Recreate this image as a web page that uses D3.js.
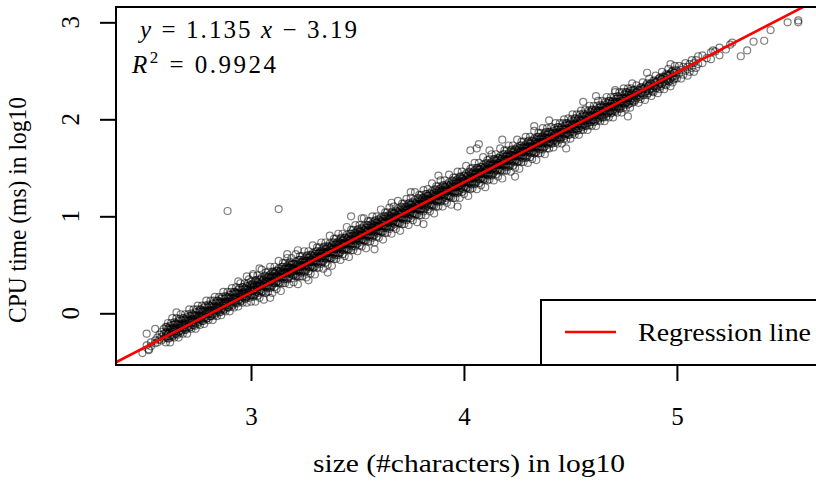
<!DOCTYPE html>
<html><head><meta charset="utf-8">
<script src="https://cdn.jsdelivr.net/npm/d3@7"></script>
<style>
html,body{margin:0;padding:0;background:#fff;}
svg{display:block;}
svg text{font-family:"Liberation Serif","Times New Roman",Tinos,"DejaVu Serif",serif !important;fill:#000;}
</style></head><body>
<svg id="chart" width="816" height="482"></svg>
<script>
// ---- data ----
const xTicks = [3, 4, 5];
const yTicks = [0, 1, 2, 3];
const fitSlope = 1.135;
const fitIntercept = -3.19;
const fitR2 = 0.9924;
const xLabel = "size (#characters) in log10";
const yLabel = "CPU time (ms) in log10";
const legendLabel = "Regression line";

// sparse points at the ends of the cloud and isolated outliers: [log10 size, log10 CPU ms]
const sparsePoints = [
[2.49,-0.41],[2.51,-0.21],[2.51,-0.33],[2.52,-0.38],[2.52,-0.37],[2.53,-0.30],[2.53,-0.34],
[2.55,-0.16],[2.55,-0.28],[2.55,-0.31],[2.56,-0.25],[2.56,-0.30],[2.57,-0.27],[2.57,-0.22],
[2.58,-0.24],[2.58,-0.28],[2.58,-0.19],[2.59,-0.26],[2.59,-0.21],[2.59,-0.16],
[2.65,0.01],[2.89,1.055],[2.94,0.33],[3.01,0.405],[3.04,0.464],[3.13,1.075],[3.17,0.61],
[3.27,0.34],[3.47,1.00],[3.75,1.25],[4.03,1.68],[4.06,1.70],[4.07,1.745],[4.18,1.79],
[4.40,1.99],[4.56,2.18],[4.71,2.30],[4.97,2.57],
[2.98,0.38],[3.09,0.16],[3.22,0.65],[3.36,0.42],[3.52,0.98],[3.58,0.66],[3.66,1.14],
[3.81,0.92],[3.88,1.42],[3.97,1.10],[4.12,1.68],[4.24,1.41],[4.33,1.93],[4.48,1.70],
[4.62,2.24],[4.77,2.03],[4.86,2.48],
[5.12,2.58],[5.12,2.66],[5.14,2.63],[5.16,2.62],[5.16,2.69],[5.17,2.71],[5.18,2.70],
[5.20,2.66],[5.20,2.74],[5.23,2.72],[5.25,2.77],[5.26,2.79],[5.30,2.65],[5.33,2.71],
[5.36,2.80],[5.41,2.81],[5.44,2.92],[5.52,3.00],[5.57,3.02],[5.57,3.00]
];

// cloud, grouped by log10 size: [x, [log10 CPU values]]
const columns = [
[2.60,[-0.30,-0.24,-0.20,-0.14]],[2.61,[-0.26,-0.21,-0.16,-0.10]],[2.62,[-0.30,-0.24,-0.17,-0.13]],
[2.63,[-0.24,-0.19,-0.17,-0.05]],[2.64,[-0.25,-0.19,-0.15,-0.09]],[2.65,[-0.21,-0.16,-0.11,-0.05]],
[2.66,[-0.25,-0.19,-0.12,-0.08]],[2.67,[-0.20,-0.15,-0.13,-0.01]],[2.68,[-0.21,-0.15,-0.11,-0.05]],
[2.69,[-0.17,-0.12,-0.07,-0.01]],[2.70,[-0.21,-0.15,-0.08,-0.04]],[2.71,[-0.15,-0.10,-0.08,0.04]],
[2.72,[-0.16,-0.10,-0.06,0.00]],[2.73,[-0.12,-0.07,-0.02,0.04]],[2.74,[-0.16,-0.10,-0.03,0.01]],
[2.75,[-0.11,-0.06,-0.04,0.08]],[2.76,[-0.12,-0.06,-0.02,0.04]],[2.77,[-0.08,-0.03,0.02,0.08]],
[2.78,[-0.11,-0.05,0.02,0.06]],[2.79,[-0.06,-0.01,0.01,0.13]],[2.80,[-0.07,-0.01,0.03,0.09]],
[2.81,[-0.03,0.02,0.07,0.13]],[2.82,[-0.07,-0.01,0.06,0.10]],[2.83,[-0.02,0.03,0.05,0.17]],
[2.84,[-0.03,0.03,0.07,0.13]],[2.85,[0.01,0.06,0.11,0.17]],[2.86,[-0.02,0.04,0.11,0.15]],
[2.87,[0.03,0.08,0.10,0.22]],[2.88,[0.02,0.08,0.12,0.18]],[2.89,[0.06,0.11,0.16,0.22]],
[2.90,[0.02,0.08,0.15,0.19]],[2.91,[0.07,0.12,0.14,0.26]],[2.92,[0.06,0.12,0.16,0.22]],
[2.93,[0.11,0.16,0.21,0.27]],[2.94,[0.07,0.13,0.20,0.24]],[2.95,[0.12,0.17,0.19,0.31]],
[2.96,[0.11,0.17,0.21,0.27]],[2.97,[0.15,0.20,0.25,0.31]],[2.98,[0.11,0.17,0.24,0.28]],
[2.99,[0.16,0.21,0.23,0.35]],
[3.00,[0.12,0.19,0.23,0.27,0.33]],[3.01,[0.17,0.23,0.27,0.31,0.39]],[3.02,[0.12,0.20,0.25,0.29,0.34]],
[3.03,[0.18,0.24,0.28,0.32,0.39]],[3.04,[0.16,0.23,0.28,0.30,0.35]],[3.05,[0.22,0.28,0.32,0.37,0.45]],
[3.06,[0.14,0.22,0.28,0.31,0.35]],[3.07,[0.21,0.27,0.33,0.38,0.42]],[3.08,[0.22,0.29,0.33,0.37,0.43]],
[3.09,[0.26,0.32,0.36,0.40,0.48]],[3.10,[0.21,0.29,0.34,0.38,0.43]],[3.11,[0.27,0.33,0.37,0.41,0.48]],
[3.12,[0.25,0.32,0.37,0.39,0.44]],[3.13,[0.31,0.37,0.41,0.46,0.54]],[3.14,[0.23,0.31,0.37,0.40,0.44]],
[3.15,[0.31,0.37,0.43,0.48,0.52]],[3.16,[0.31,0.38,0.42,0.46,0.52]],[3.17,[0.35,0.41,0.45,0.49,0.57]],
[3.18,[0.30,0.38,0.43,0.47,0.52]],[3.19,[0.36,0.42,0.46,0.50,0.57]],[3.20,[0.32,0.39,0.44,0.46,0.51]],
[3.21,[0.38,0.44,0.48,0.53,0.61]],[3.22,[0.30,0.38,0.44,0.47,0.51]],[3.23,[0.38,0.44,0.50,0.55,0.59]],
[3.24,[0.38,0.45,0.49,0.53,0.59]],[3.25,[0.42,0.48,0.52,0.56,0.64]],[3.26,[0.37,0.45,0.50,0.54,0.59]],
[3.27,[0.43,0.49,0.53,0.57,0.64]],[3.28,[0.41,0.48,0.53,0.55,0.60]],[3.29,[0.47,0.53,0.57,0.62,0.70]],
[3.30,[0.40,0.48,0.54,0.57,0.61]],[3.31,[0.47,0.53,0.59,0.64,0.68]],[3.32,[0.47,0.54,0.58,0.62,0.68]],
[3.33,[0.51,0.57,0.61,0.65,0.73]],[3.34,[0.46,0.54,0.59,0.63,0.68]],[3.35,[0.52,0.58,0.62,0.66,0.73]],
[3.36,[0.50,0.57,0.62,0.64,0.69]],[3.37,[0.57,0.63,0.67,0.72,0.80]],[3.38,[0.49,0.57,0.63,0.66,0.70]],
[3.39,[0.56,0.62,0.68,0.73,0.77]],[3.40,[0.56,0.63,0.67,0.71,0.77]],[3.41,[0.60,0.66,0.70,0.74,0.82]],
[3.42,[0.55,0.63,0.68,0.72,0.77]],[3.43,[0.61,0.67,0.71,0.75,0.82]],[3.44,[0.59,0.66,0.71,0.73,0.78]],
[3.45,[0.66,0.72,0.76,0.81,0.89]],[3.46,[0.58,0.66,0.72,0.75,0.79]],[3.47,[0.65,0.71,0.77,0.82,0.86]],
[3.48,[0.65,0.72,0.76,0.80,0.86]],[3.49,[0.69,0.75,0.79,0.83,0.91]],[3.50,[0.64,0.72,0.77,0.81,0.86]],
[3.51,[0.70,0.76,0.80,0.84,0.91]],[3.52,[0.69,0.76,0.81,0.83,0.88]],[3.53,[0.75,0.81,0.85,0.90,0.98]],
[3.54,[0.67,0.75,0.81,0.84,0.88]],[3.55,[0.74,0.80,0.86,0.91,0.95]],[3.56,[0.74,0.81,0.85,0.89,0.95]],
[3.57,[0.78,0.84,0.88,0.92,1.00]],[3.58,[0.73,0.81,0.86,0.90,0.95]],[3.59,[0.79,0.85,0.89,0.93,1.00]],
[3.60,[0.78,0.85,0.90,0.92,0.97]],[3.61,[0.84,0.90,0.94,0.99,1.07]],[3.62,[0.76,0.84,0.90,0.93,0.97]],
[3.63,[0.83,0.89,0.95,1.00,1.04]],[3.64,[0.83,0.90,0.94,0.98,1.04]],[3.65,[0.87,0.93,0.97,1.01,1.09]],
[3.66,[0.82,0.90,0.95,0.99,1.04]],[3.67,[0.89,0.95,0.99,1.03,1.10]],[3.68,[0.87,0.94,0.99,1.01,1.06]],
[3.69,[0.93,0.99,1.03,1.08,1.16]],[3.70,[0.85,0.93,0.99,1.02,1.06]],[3.71,[0.92,0.98,1.04,1.09,1.13]],
[3.72,[0.92,0.99,1.03,1.07,1.13]],[3.73,[0.96,1.02,1.06,1.10,1.18]],[3.74,[0.91,0.99,1.04,1.08,1.13]],
[3.75,[0.98,1.04,1.08,1.12,1.19]],[3.76,[0.96,1.03,1.08,1.10,1.15]],[3.77,[1.02,1.08,1.12,1.17,1.25]],
[3.78,[0.94,1.02,1.08,1.11,1.15]],[3.79,[1.01,1.07,1.13,1.18,1.22]],[3.80,[1.01,1.08,1.12,1.16,1.22]],
[3.81,[1.05,1.11,1.15,1.19,1.27]],[3.82,[1.01,1.09,1.14,1.18,1.23]],[3.83,[1.07,1.13,1.17,1.21,1.28]],
[3.84,[1.05,1.12,1.17,1.19,1.24]],[3.85,[1.11,1.17,1.21,1.26,1.34]],[3.86,[1.03,1.11,1.17,1.20,1.24]],
[3.87,[1.10,1.16,1.22,1.27,1.31]],[3.88,[1.10,1.17,1.21,1.25,1.31]],[3.89,[1.15,1.21,1.25,1.29,1.37]],
[3.90,[1.10,1.18,1.23,1.27,1.32]],[3.91,[1.16,1.22,1.26,1.30,1.37]],[3.92,[1.14,1.21,1.26,1.28,1.33]],
[3.93,[1.20,1.26,1.30,1.35,1.43]],[3.94,[1.12,1.20,1.26,1.29,1.33]],[3.95,[1.19,1.25,1.31,1.36,1.40]],
[3.96,[1.19,1.26,1.30,1.34,1.40]],[3.97,[1.24,1.30,1.34,1.38,1.46]],[3.98,[1.19,1.27,1.32,1.36,1.41]],
[3.99,[1.25,1.31,1.35,1.39,1.46]],[4.00,[1.23,1.30,1.35,1.37,1.42]],[4.01,[1.29,1.35,1.39,1.44,1.52]],
[4.02,[1.21,1.29,1.35,1.38,1.42]],[4.03,[1.28,1.34,1.40,1.45,1.49]],[4.04,[1.29,1.36,1.40,1.44,1.50]],
[4.05,[1.33,1.39,1.43,1.47,1.55]],[4.06,[1.28,1.36,1.41,1.45,1.50]],[4.07,[1.34,1.40,1.44,1.48,1.55]],
[4.08,[1.32,1.39,1.44,1.46,1.51]],[4.09,[1.38,1.44,1.48,1.53,1.61]],[4.10,[1.30,1.38,1.44,1.47,1.51]],
[4.11,[1.37,1.43,1.49,1.54,1.58]],[4.12,[1.38,1.45,1.49,1.53,1.59]],[4.13,[1.42,1.48,1.52,1.56,1.64]],
[4.14,[1.37,1.45,1.50,1.54,1.59]],[4.15,[1.43,1.49,1.53,1.57,1.64]],[4.16,[1.41,1.48,1.53,1.55,1.60]],
[4.17,[1.47,1.53,1.57,1.62,1.70]],[4.18,[1.39,1.47,1.53,1.56,1.60]],[4.19,[1.47,1.53,1.59,1.64,1.68]],
[4.20,[1.47,1.54,1.58,1.62,1.68]],[4.21,[1.51,1.57,1.61,1.65,1.73]],[4.22,[1.46,1.54,1.59,1.63,1.68]],
[4.23,[1.52,1.58,1.62,1.66,1.73]],[4.24,[1.50,1.57,1.62,1.64,1.69]],[4.25,[1.56,1.62,1.66,1.71,1.79]],
[4.26,[1.49,1.57,1.63,1.66,1.70]],[4.27,[1.56,1.62,1.68,1.73,1.77]],[4.28,[1.56,1.63,1.67,1.71,1.77]],
[4.29,[1.60,1.66,1.70,1.74,1.82]],[4.30,[1.55,1.63,1.68,1.72,1.77]],[4.31,[1.61,1.67,1.71,1.75,1.82]],
[4.32,[1.59,1.66,1.71,1.73,1.78]],[4.33,[1.65,1.71,1.75,1.80,1.88]],[4.34,[1.58,1.66,1.72,1.75,1.79]],
[4.35,[1.65,1.71,1.77,1.82,1.86]],[4.36,[1.65,1.72,1.76,1.80,1.86]],[4.37,[1.69,1.75,1.79,1.83,1.91]],
[4.38,[1.64,1.72,1.77,1.81,1.86]],[4.39,[1.70,1.76,1.80,1.84,1.91]],
[4.40,[1.70,1.76,1.81,1.87]],[4.41,[1.75,1.80,1.85,1.92]],[4.42,[1.71,1.78,1.83,1.88]],
[4.43,[1.76,1.81,1.86,1.96]],[4.44,[1.75,1.81,1.86,1.92]],[4.45,[1.79,1.84,1.89,1.96]],
[4.46,[1.75,1.82,1.87,1.92]],[4.47,[1.80,1.85,1.90,2.00]],[4.48,[1.79,1.85,1.90,1.96]],
[4.49,[1.84,1.89,1.94,2.01]],[4.50,[1.80,1.87,1.92,1.97]],[4.51,[1.85,1.90,1.95,2.05]],
[4.52,[1.84,1.90,1.95,2.01]],[4.53,[1.88,1.93,1.98,2.05]],[4.54,[1.84,1.91,1.96,2.01]],
[4.55,[1.89,1.94,1.99,2.09]],[4.56,[1.89,1.95,2.00,2.06]],[4.57,[1.93,1.98,2.03,2.10]],
[4.58,[1.89,1.96,2.01,2.06]],[4.59,[1.94,1.99,2.04,2.14]],[4.60,[1.93,1.99,2.04,2.10]],
[4.61,[1.97,2.02,2.07,2.14]],[4.62,[1.93,2.00,2.05,2.10]],[4.63,[1.99,2.04,2.09,2.19]],
[4.64,[1.98,2.04,2.09,2.15]],[4.65,[2.02,2.07,2.12,2.19]],[4.66,[1.98,2.05,2.10,2.15]],
[4.67,[2.03,2.08,2.13,2.23]],[4.68,[2.02,2.08,2.13,2.19]],[4.69,[2.06,2.11,2.16,2.23]],
[4.70,[2.02,2.09,2.14,2.19]],[4.71,[2.08,2.13,2.18,2.28]],[4.72,[2.07,2.13,2.18,2.24]],
[4.73,[2.11,2.16,2.21,2.28]],[4.74,[2.07,2.14,2.19,2.24]],[4.75,[2.12,2.17,2.22,2.32]],
[4.76,[2.11,2.17,2.22,2.28]],[4.77,[2.15,2.20,2.25,2.32]],[4.78,[2.12,2.19,2.24,2.29]],
[4.79,[2.17,2.22,2.27,2.37]],
[4.80,[2.18,2.24,2.30]],[4.81,[2.22,2.28,2.35]],[4.82,[2.17,2.25,2.30]],[4.83,[2.21,2.27,2.33]],
[4.84,[2.25,2.31,2.38]],[4.85,[2.20,2.28,2.33]],[4.86,[2.25,2.31,2.37]],[4.87,[2.29,2.35,2.42]],
[4.88,[2.24,2.32,2.37]],[4.89,[2.28,2.34,2.40]],[4.90,[2.32,2.38,2.45]],[4.91,[2.27,2.35,2.40]],
[4.92,[2.31,2.37,2.43]],[4.93,[2.36,2.42,2.49]],[4.94,[2.31,2.39,2.44]],[4.95,[2.35,2.41,2.47]],
[4.96,[2.39,2.45,2.52]],[4.97,[2.34,2.42,2.47]],[4.98,[2.38,2.44,2.50]],[4.99,[2.42,2.48,2.55]],
[5.00,[2.42,2.50]],[5.01,[2.47,2.55]],[5.02,[2.42,2.51]],[5.03,[2.46,2.54]],[5.04,[2.50,2.58]],
[5.05,[2.45,2.54]],[5.06,[2.49,2.57]],[5.07,[2.53,2.61]],[5.08,[2.49,2.58]],[5.09,[2.53,2.61]],
[5.10,[2.57,2.65]]
];

// dense core of the cloud (between the columns above): [x, [log10 CPU values]]
const coreColumns = [
[2.605,[-0.25,-0.19,-0.14]],[2.615,[-0.26,-0.20,-0.15]],[2.625,[-0.22,-0.16,-0.10]],[2.635,[-0.23,-0.17,-0.12]],
[2.645,[-0.21,-0.15,-0.10]],[2.655,[-0.22,-0.16,-0.11]],[2.665,[-0.18,-0.12,-0.06]],[2.675,[-0.18,-0.12,-0.07]],
[2.685,[-0.16,-0.10,-0.05]],[2.695,[-0.17,-0.11,-0.06]],[2.705,[-0.13,-0.07,-0.01]],[2.715,[-0.14,-0.08,-0.03]],
[2.725,[-0.12,-0.06,-0.01]],[2.735,[-0.13,-0.07,-0.02]],[2.745,[-0.08,-0.02,0.04]],[2.755,[-0.09,-0.03,0.02]],
[2.765,[-0.07,-0.01,0.04]],[2.775,[-0.08,-0.02,0.03]],[2.785,[-0.04,0.02,0.08]],[2.795,[-0.05,0.01,0.06]],
[2.805,[-0.03,0.03,0.08]],[2.815,[-0.03,0.03,0.08]],[2.825,[0.01,0.07,0.13]],[2.835,[0.00,0.06,0.11]],
[2.845,[0.02,0.08,0.13]],[2.855,[0.01,0.07,0.12]],[2.865,[0.05,0.11,0.17]],[2.875,[0.04,0.10,0.15]],
[2.885,[0.06,0.12,0.17]],[2.895,[0.06,0.12,0.17]],[2.905,[0.10,0.16,0.22]],[2.915,[0.09,0.15,0.20]],
[2.925,[0.11,0.17,0.22]],[2.935,[0.10,0.16,0.21]],[2.945,[0.14,0.20,0.26]],[2.955,[0.13,0.19,0.24]],
[2.965,[0.16,0.22,0.27]],[2.975,[0.15,0.21,0.26]],[2.985,[0.19,0.25,0.31]],[2.995,[0.18,0.24,0.29]],
[3.005,[0.19,0.25,0.30]],[3.015,[0.18,0.24,0.29]],[3.025,[0.22,0.28,0.34]],[3.035,[0.21,0.27,0.32]],
[3.045,[0.24,0.30,0.35]],[3.055,[0.23,0.29,0.34]],[3.065,[0.27,0.33,0.39]],[3.075,[0.26,0.32,0.37]],
[3.085,[0.28,0.34,0.39]],[3.095,[0.27,0.33,0.38]],[3.105,[0.31,0.37,0.43]],[3.115,[0.31,0.37,0.42]],
[3.125,[0.33,0.39,0.44]],[3.135,[0.32,0.38,0.43]],[3.145,[0.36,0.42,0.48]],[3.155,[0.35,0.41,0.46]],
[3.165,[0.37,0.43,0.48]],[3.175,[0.36,0.42,0.47]],[3.185,[0.41,0.47,0.53]],[3.195,[0.40,0.46,0.51]],
[3.205,[0.40,0.46,0.51]],[3.215,[0.39,0.45,0.50]],[3.225,[0.43,0.49,0.55]],[3.235,[0.42,0.48,0.53]],
[3.245,[0.44,0.50,0.55]],[3.255,[0.43,0.49,0.54]],[3.265,[0.48,0.54,0.60]],[3.275,[0.47,0.53,0.58]],
[3.285,[0.49,0.55,0.60]],[3.295,[0.48,0.54,0.59]],[3.305,[0.52,0.58,0.64]],[3.315,[0.51,0.57,0.62]],
[3.325,[0.53,0.59,0.64]],[3.335,[0.53,0.59,0.64]],[3.345,[0.57,0.63,0.69]],[3.355,[0.56,0.62,0.67]],
[3.365,[0.58,0.64,0.69]],[3.375,[0.57,0.63,0.68]],[3.385,[0.61,0.67,0.73]],[3.395,[0.60,0.66,0.71]],
[3.405,[0.62,0.68,0.73]],[3.415,[0.62,0.68,0.73]],[3.425,[0.66,0.72,0.78]],[3.435,[0.65,0.71,0.76]],
[3.445,[0.67,0.73,0.78]],[3.455,[0.66,0.72,0.77]],[3.465,[0.70,0.76,0.82]],[3.475,[0.69,0.75,0.80]],
[3.485,[0.72,0.78,0.83]],[3.495,[0.71,0.77,0.82]],[3.505,[0.75,0.81,0.87]],[3.515,[0.74,0.80,0.85]],
[3.525,[0.76,0.82,0.87]],[3.535,[0.75,0.81,0.86]],[3.545,[0.79,0.85,0.91]],[3.555,[0.79,0.85,0.90]],
[3.565,[0.81,0.87,0.92]],[3.575,[0.80,0.86,0.91]],[3.585,[0.84,0.90,0.96]],[3.595,[0.83,0.89,0.94]],
[3.605,[0.85,0.91,0.96]],[3.615,[0.84,0.90,0.95]],[3.625,[0.88,0.94,1.00]],[3.635,[0.88,0.94,0.99]],
[3.645,[0.90,0.96,1.01]],[3.655,[0.89,0.95,1.00]],[3.665,[0.93,0.99,1.05]],[3.675,[0.92,0.98,1.03]],
[3.685,[0.94,1.00,1.05]],[3.695,[0.93,0.99,1.04]],[3.705,[0.98,1.04,1.10]],[3.715,[0.97,1.03,1.08]],
[3.725,[0.99,1.05,1.10]],[3.735,[0.98,1.04,1.09]],[3.745,[1.02,1.08,1.14]],[3.755,[1.01,1.07,1.12]],
[3.765,[1.03,1.09,1.14]],[3.775,[1.02,1.08,1.13]],[3.785,[1.07,1.13,1.19]],[3.795,[1.06,1.12,1.17]],
[3.805,[1.08,1.14,1.19]],[3.815,[1.07,1.13,1.18]],[3.825,[1.11,1.17,1.23]],[3.835,[1.10,1.16,1.21]],
[3.845,[1.12,1.18,1.23]],[3.855,[1.12,1.18,1.23]],[3.865,[1.16,1.22,1.28]],[3.875,[1.15,1.21,1.26]],
[3.885,[1.17,1.23,1.28]],[3.895,[1.16,1.22,1.27]],[3.905,[1.20,1.26,1.32]],[3.915,[1.19,1.25,1.30]],
[3.925,[1.21,1.27,1.32]],[3.935,[1.21,1.27,1.32]],[3.945,[1.25,1.31,1.37]],[3.955,[1.24,1.30,1.35]],
[3.965,[1.26,1.32,1.37]],[3.975,[1.25,1.31,1.36]],[3.985,[1.29,1.35,1.41]],[3.995,[1.28,1.34,1.39]],
[4.005,[1.31,1.37,1.42]],[4.015,[1.30,1.36,1.41]],[4.025,[1.34,1.40,1.46]],[4.035,[1.33,1.39,1.44]],
[4.045,[1.35,1.41,1.46]],[4.055,[1.34,1.40,1.45]],[4.065,[1.38,1.44,1.50]],[4.075,[1.38,1.44,1.49]],
[4.085,[1.40,1.46,1.51]],[4.095,[1.39,1.45,1.50]],[4.105,[1.43,1.49,1.55]],[4.115,[1.42,1.48,1.53]],
[4.125,[1.44,1.50,1.55]],[4.135,[1.43,1.49,1.54]],[4.145,[1.47,1.53,1.59]],[4.155,[1.47,1.53,1.58]],
[4.165,[1.49,1.55,1.60]],[4.175,[1.48,1.54,1.59]],[4.185,[1.52,1.58,1.64]],[4.195,[1.51,1.57,1.62]],
[4.205,[1.53,1.59,1.64]],[4.215,[1.52,1.58,1.63]],[4.225,[1.57,1.63,1.69]],[4.235,[1.56,1.62,1.67]],
[4.245,[1.58,1.64,1.69]],[4.255,[1.57,1.63,1.68]],[4.265,[1.61,1.67,1.73]],[4.275,[1.60,1.66,1.71]],
[4.285,[1.62,1.68,1.73]],[4.295,[1.61,1.67,1.72]],[4.305,[1.66,1.72,1.78]],[4.315,[1.65,1.71,1.76]],
[4.325,[1.67,1.73,1.78]],[4.335,[1.66,1.72,1.77]],[4.345,[1.70,1.76,1.82]],[4.355,[1.69,1.75,1.80]],
[4.365,[1.71,1.77,1.82]],[4.375,[1.71,1.77,1.82]],[4.385,[1.75,1.81,1.87]],[4.395,[1.74,1.80,1.85]],
[4.405,[1.76,1.82,1.87]],[4.415,[1.75,1.81,1.86]],[4.425,[1.79,1.85,1.91]],[4.435,[1.78,1.84,1.89]],
[4.445,[1.81,1.87,1.92]],[4.455,[1.80,1.86,1.91]],[4.465,[1.84,1.90,1.96]],[4.475,[1.83,1.89,1.94]],
[4.485,[1.85,1.91,1.96]],[4.495,[1.84,1.90,1.95]],[4.505,[1.88,1.94,2.00]],[4.515,[1.87,1.93,1.98]],
[4.525,[1.90,1.96,2.01]],[4.535,[1.89,1.95,2.00]],[4.545,[1.93,1.99,2.05]],[4.555,[1.92,1.98,2.03]],
[4.565,[1.94,2.00,2.05]],[4.575,[1.93,1.99,2.04]],[4.585,[1.97,2.03,2.09]],[4.595,[1.97,2.03,2.08]],
[4.605,[1.99,2.05,2.10]],[4.615,[1.98,2.04,2.09]],[4.625,[2.02,2.08,2.14]],[4.635,[2.01,2.07,2.12]],
[4.645,[2.03,2.09,2.14]],[4.655,[2.02,2.08,2.13]],[4.665,[2.06,2.12,2.18]],[4.675,[2.06,2.12,2.17]],
[4.685,[2.08,2.14,2.19]],[4.695,[2.07,2.13,2.18]],[4.705,[2.11,2.17,2.23]],[4.715,[2.10,2.16,2.21]],
[4.725,[2.12,2.18,2.23]],[4.735,[2.11,2.17,2.22]],[4.745,[2.16,2.22,2.28]],[4.755,[2.15,2.21,2.26]],
[4.765,[2.17,2.23,2.28]],[4.775,[2.16,2.22,2.27]],[4.785,[2.20,2.26,2.32]],[4.795,[2.19,2.25,2.30]],
[4.805,[2.20,2.27]],[4.815,[2.25,2.31]],[4.825,[2.23,2.30]],[4.835,[2.27,2.33]],[4.845,[2.25,2.32]],
[4.855,[2.29,2.35]],[4.865,[2.27,2.34]],[4.875,[2.31,2.37]],[4.885,[2.29,2.36]],[4.895,[2.34,2.40]],
[4.905,[2.32,2.39]],[4.915,[2.36,2.42]],[4.925,[2.34,2.41]],[4.935,[2.38,2.44]],[4.945,[2.36,2.43]],
[4.955,[2.40,2.46]],[4.965,[2.39,2.46]],[4.975,[2.43,2.49]],[4.985,[2.41,2.48]],[4.995,[2.45,2.51]]
];

// ---- layout ----
const plot = {left: 116, top: 7, right: 820, bottom: 365};
const FS = 25;
const FONT = "'Liberation Serif','Times New Roman',Tinos,'DejaVu Serif',serif";

const svg = d3.select("#chart").attr("font-family", FONT);
const x = d3.scaleLinear().domain([2.366, 5.672]).range([plot.left, plot.right]);
const y = d3.scaleLinear().domain([-0.533, 3.158]).range([plot.bottom, plot.top]);

svg.append("defs").append("clipPath").attr("id", "clip")
  .append("rect").attr("x", plot.left).attr("y", plot.top)
  .attr("width", plot.right - plot.left).attr("height", plot.bottom - plot.top);

const points = [];
columns.forEach(([cx, ys]) => ys.forEach(v => points.push([cx, v])));
coreColumns.forEach(([cx, ys]) => ys.forEach(v => points.push([cx, v])));
sparsePoints.forEach(p => points.push(p));

svg.append("g").attr("clip-path", "url(#clip)")
  .selectAll("circle").data(points).join("circle")
  .attr("cx", d => x(d[0])).attr("cy", d => y(d[1]))
  .attr("r", 3.5).attr("fill", "none")
  .attr("stroke", "rgba(0,0,0,0.5)").attr("stroke-width", 1.2);

// regression line
const xd = x.domain();
svg.append("g").attr("clip-path", "url(#clip)").append("line")
  .attr("x1", x(xd[0])).attr("y1", y(fitSlope * xd[0] + fitIntercept))
  .attr("x2", x(xd[1])).attr("y2", y(fitSlope * xd[1] + fitIntercept))
  .attr("stroke", "#ff0000").attr("stroke-width", 2.6);

// box
svg.append("rect").attr("x", plot.left).attr("y", plot.top)
  .attr("width", plot.right - plot.left).attr("height", plot.bottom - plot.top)
  .attr("fill", "none").attr("stroke", "#000").attr("stroke-width", 2);

// x axis
const gx = svg.append("g").attr("transform", `translate(0,${plot.bottom})`)
  .call(d3.axisBottom(x).tickValues(xTicks).tickSize(16).tickPadding(26).tickFormat(d3.format("d")));
gx.attr("font-family", FONT).attr("font-size", FS);
gx.select(".domain").remove();
gx.selectAll(".tick line").attr("stroke", "#000").attr("stroke-width", 2);
gx.selectAll(".tick text").attr("fill", "#000");

// y axis
const gy = svg.append("g").attr("transform", `translate(${plot.left},0)`)
  .call(d3.axisLeft(y).tickValues(yTicks).tickSize(16).tickFormat(""));
gy.select(".domain").remove();
gy.selectAll(".tick line").attr("stroke", "#000").attr("stroke-width", 2);
svg.append("g").selectAll("text").data(yTicks).join("text")
  .attr("transform", d => `translate(79,${y(d)}) rotate(-90)`)
  .attr("text-anchor", "middle").attr("font-size", FS).text(d => d);

// axis titles
svg.append("text").attr("x", 469).attr("y", 472).attr("text-anchor", "middle")
  .attr("font-size", FS).attr("textLength", 312).attr("lengthAdjust", "spacingAndGlyphs").text(xLabel);
svg.append("text").attr("transform", `translate(26,210) rotate(-90)`).attr("text-anchor", "middle")
  .attr("font-size", FS).attr("textLength", 226).attr("lengthAdjust", "spacingAndGlyphs").text(yLabel);

// equation annotation
const eq = svg.append("text").attr("x", 140).attr("y", 38).attr("font-size", 25)
  .attr("textLength", 217).attr("lengthAdjust", "spacing").style("white-space", "pre");
eq.append("tspan").attr("font-style", "italic").text("y");
eq.append("tspan").text(" = " + fitSlope.toFixed(3) + " ");
eq.append("tspan").attr("font-style", "italic").text("x");
eq.append("tspan").text(" \u2212 " + Math.abs(fitIntercept).toFixed(2));
const r2 = svg.append("text").attr("x", 132).attr("y", 73).attr("font-size", 25)
  .attr("textLength", 144).attr("lengthAdjust", "spacing").style("white-space", "pre");
r2.append("tspan").attr("font-style", "italic").text("R");
r2.append("tspan").attr("font-size", 17).attr("dy", -10).text("2");
r2.append("tspan").attr("dy", 10).text(" = " + fitR2.toFixed(4));

// legend
const lg = svg.append("g");
lg.append("rect").attr("x", 541).attr("y", 300).attr("width", 300).attr("height", plot.bottom - 300)
  .attr("fill", "#fff").attr("stroke", "#000").attr("stroke-width", 2);
lg.append("line").attr("x1", 565).attr("x2", 616).attr("y1", 332).attr("y2", 332)
  .attr("stroke", "#ff0000").attr("stroke-width", 2.6);
lg.append("text").attr("x", 638).attr("y", 341).attr("font-size", FS)
  .attr("textLength", 173).attr("lengthAdjust", "spacingAndGlyphs").text(legendLabel);
</script>
</body></html>
